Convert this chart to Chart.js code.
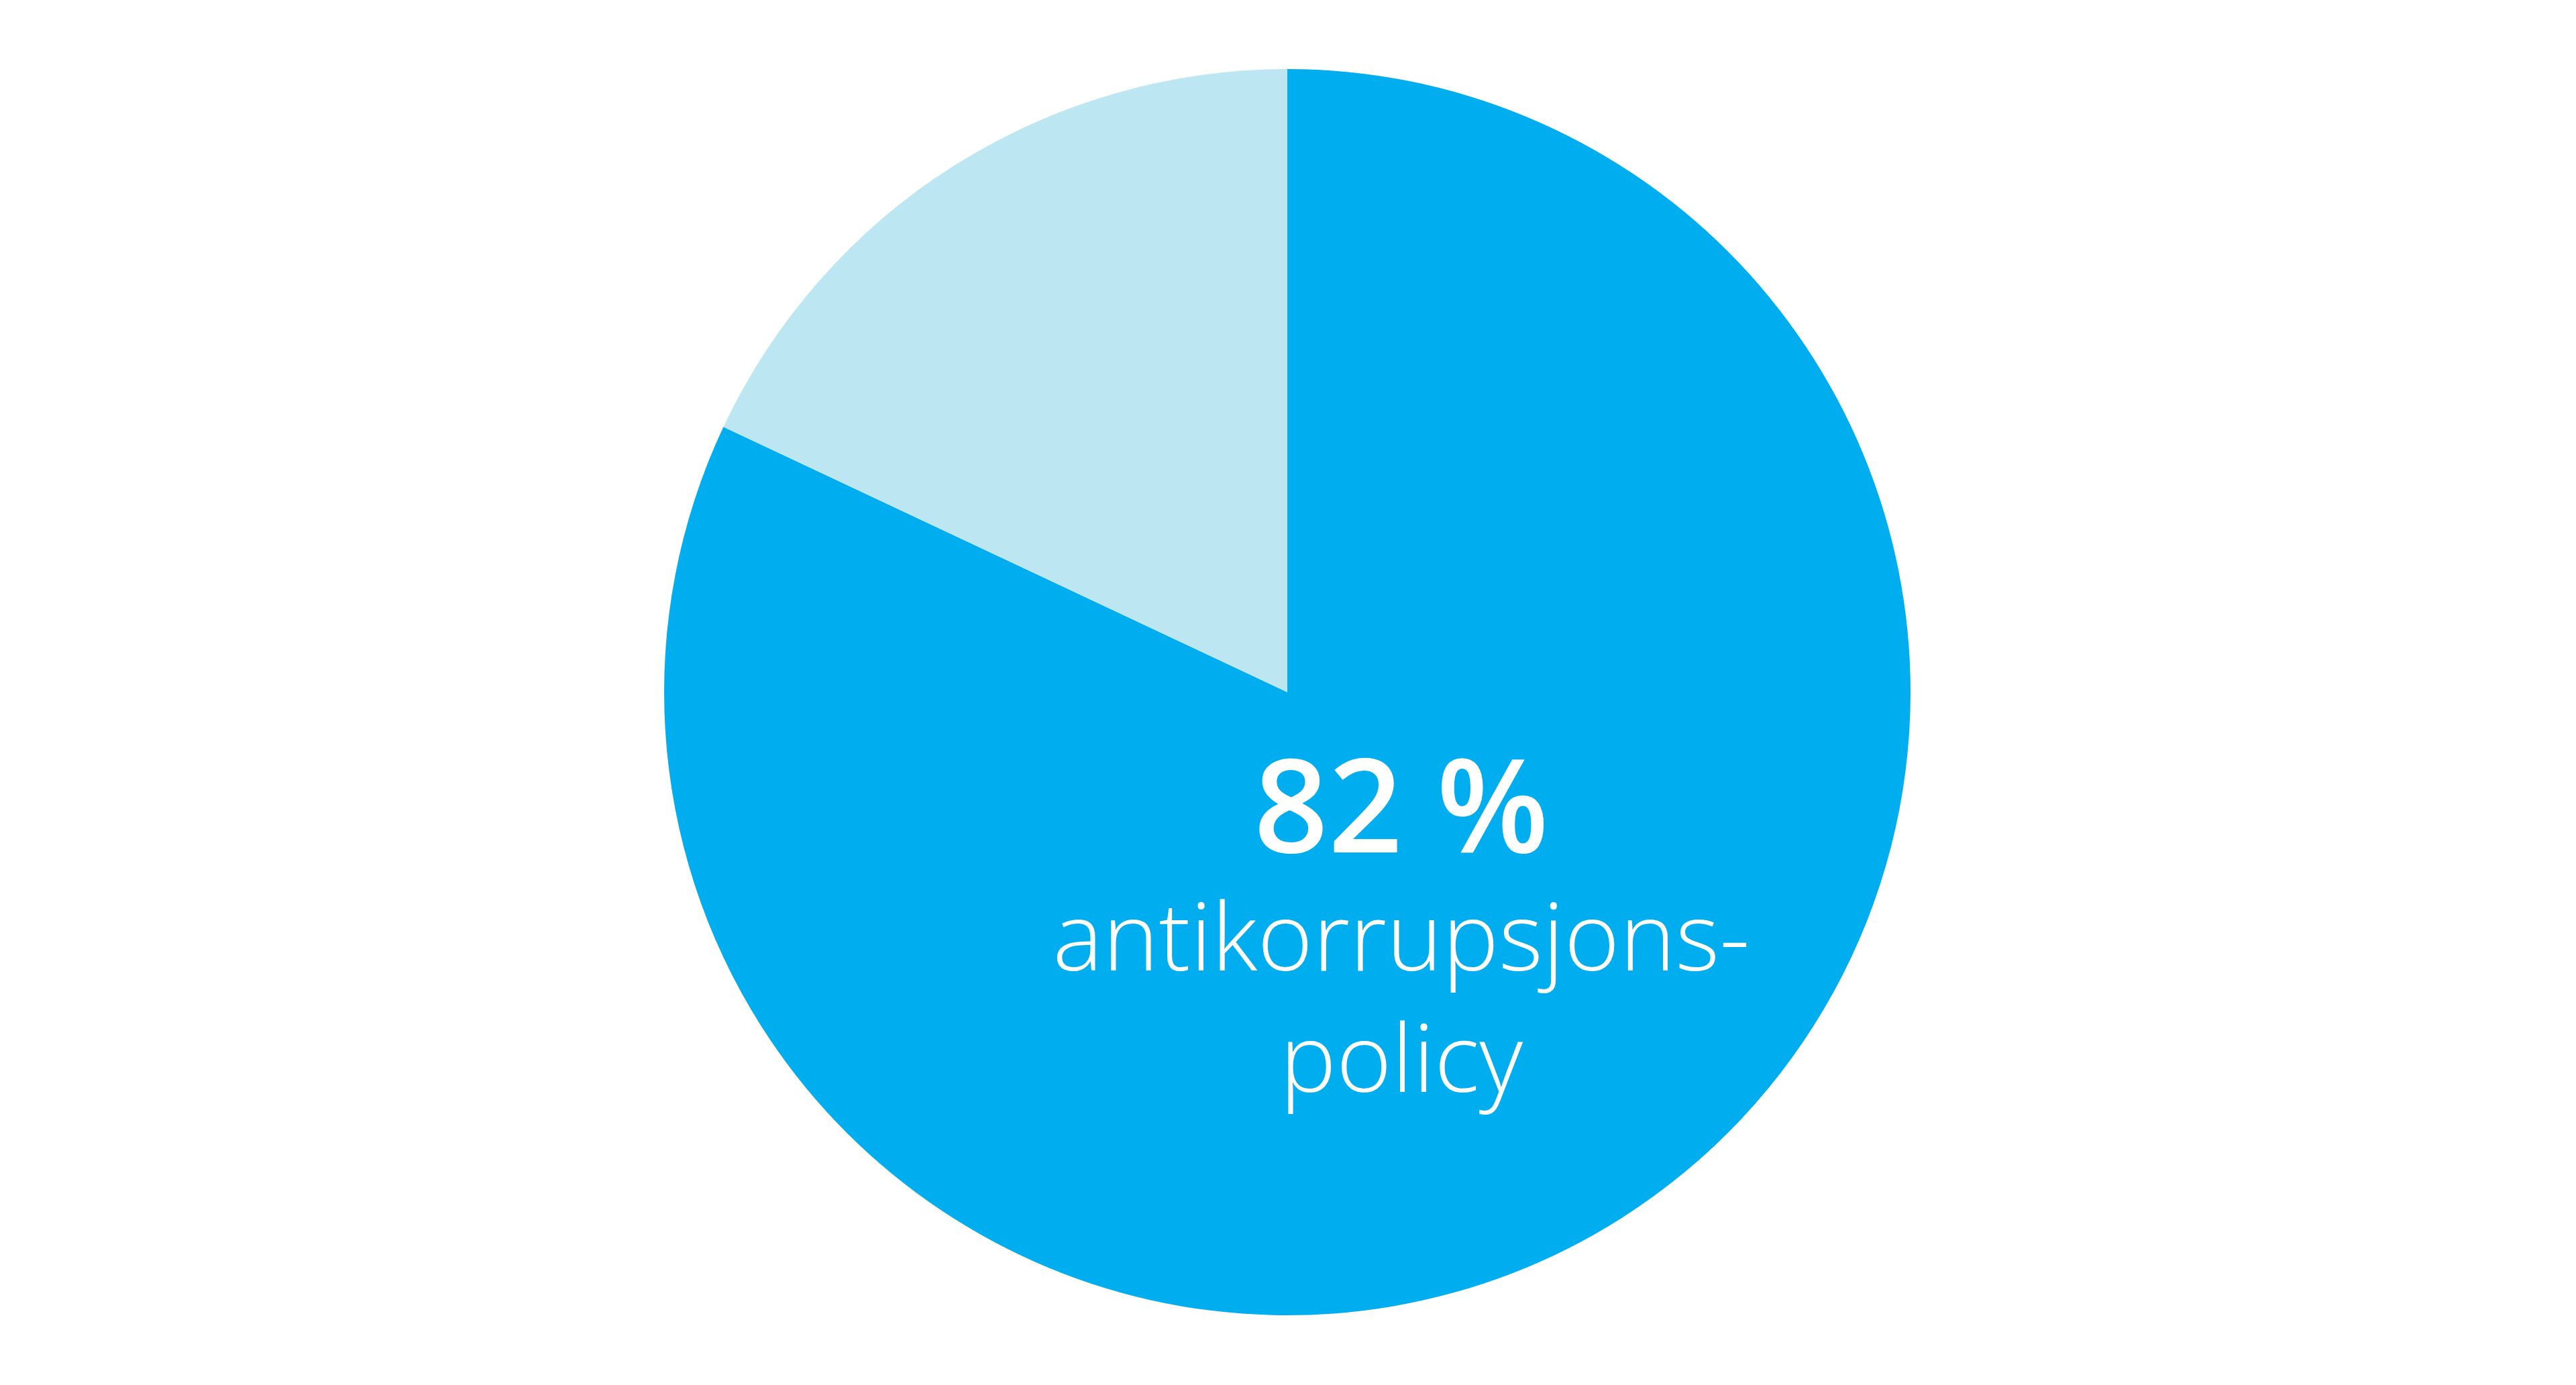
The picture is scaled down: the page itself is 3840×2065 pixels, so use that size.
<!DOCTYPE html>
<html>
<head>
<meta charset="utf-8">
<script src="https://cdn.jsdelivr.net/npm/chart.js@4"></script>
<style>
  html, body { margin: 0; padding: 0; background: #fff; }
  #wrap { width: 3840px; height: 2065px; }
</style>
</head>
<body>
<div id="wrap"><canvas id="chartPie"></canvas></div>
<script>
const categories = ["Har antikorrupsjonspolicy", "Har ikke"];
const shares = [82, 18];
const sliceColors = ["#00AEEF", "#BDE6F3"];
const bigLabel = "82 %";
const captionLines = ["antikorrupsjons-", "policy"];

// writes the percentage and caption inside the big slice
const centerText = {
  id: "centerText",
  afterDraw(chart) {
    const arc = chart.getDatasetMeta(0).data[0];
    if (!arc) return;
    const r = arc.outerRadius;
    const cx = arc.x + r * 0.183;
    const c = chart.ctx;
    c.save();
    c.fillStyle = "#ffffff";
    c.textAlign = "center";
    c.textBaseline = "alphabetic";
    c.font = "600 194px 'Open Sans'";
    c.fillText(bigLabel, cx, arc.y + r * 0.257);
    c.font = "300 141px 'Open Sans'";
    c.fillText(captionLines[0], cx, arc.y + r * 0.447);
    c.fillText(captionLines[1], cx, arc.y + r * 0.642);
    c.restore();
  }
};

new Chart(document.getElementById("chartPie").getContext("2d"), {
  type: "pie",
  data: {
    labels: categories,
    datasets: [{
      data: shares,
      backgroundColor: sliceColors,
      borderWidth: 0,
    }],
  },
  options: {
    responsive: true,
    maintainAspectRatio: false,
    animation: false,
    layout: { padding: { top: 103, bottom: 104, left: 0, right: 2 } },
    plugins: {
      legend: { display: false },
      tooltip: { enabled: false },
    },
  },
  plugins: [centerText],
});
</script>
</body>
</html>
